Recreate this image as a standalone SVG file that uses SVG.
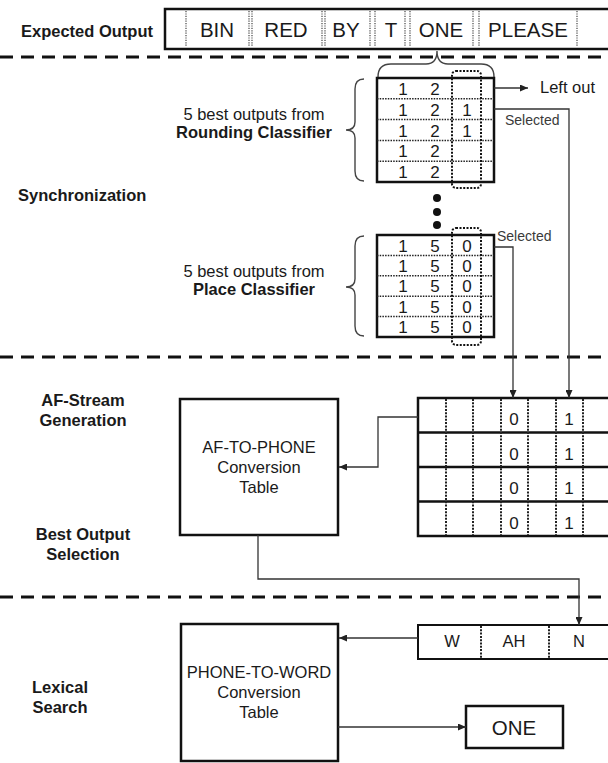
<svg xmlns="http://www.w3.org/2000/svg" width="608" height="763" viewBox="0 0 608 763">
<style>
text{font-family:"Liberation Sans",Arial,sans-serif;fill:#1a1a1a}
.lbl{font-size:16.5px;font-weight:bold}
.t{font-size:16.5px}
.big{font-size:20.5px}
.dg{font-size:17px}
.sel{font-size:14px;fill:#3a3a3a}
.mid{text-anchor:middle}
.box{fill:#fff;stroke:#111;stroke-width:2.5}
.dot{stroke:#222;stroke-width:1.5;stroke-dasharray:1.5 1.2;fill:none}
.dotv{stroke:#222;stroke-width:2;stroke-dasharray:2 1.3;fill:none}
.sep{stroke:#444;stroke-width:1.2;stroke-dasharray:1.2 1.2}
.hl{fill:none;stroke:#111;stroke-width:2;stroke-dasharray:2 1.5}
.div{stroke:#111;stroke-width:3;stroke-dasharray:13 8}
.ln{fill:none;stroke:#333;stroke-width:1.3}
.br{fill:none;stroke:#444;stroke-width:1.4}
.hline{stroke:#111;stroke-width:2.5}
</style>
<defs>
<marker id="ah" markerWidth="8" markerHeight="7" refX="8" refY="3.5" orient="auto" markerUnits="userSpaceOnUse">
<path d="M0,0 L8,3.5 L0,7 z" fill="#222"/>
</marker>
</defs>
<rect width="608" height="763" fill="#fff"/>

<g id="dividers">
<line class="div" x1="0" y1="57" x2="608" y2="57"/>
<line class="div" x1="0" y1="357" x2="608" y2="357"/>
<line class="div" x1="0" y1="597" x2="608" y2="597"/>
</g>

<g id="section-labels">
<text class="lbl" x="21" y="37">Expected Output</text>
<text class="lbl" x="18" y="201">Synchronization</text>
<text class="lbl mid" x="83" y="406">AF-Stream</text>
<text class="lbl mid" x="83" y="426">Generation</text>
<text class="lbl mid" x="83" y="540">Best Output</text>
<text class="lbl mid" x="83" y="560">Selection</text>
<text class="lbl mid" x="60" y="693">Lexical</text>
<text class="lbl mid" x="60" y="713">Search</text>
</g>

<g id="expected-output">
<rect class="box" x="165" y="9" width="460" height="40"/>
<line class="sep" x1="186" y1="11" x2="186" y2="47"/>
<line class="sep" x1="249" y1="11" x2="249" y2="47"/>
<line class="sep" x1="252" y1="11" x2="252" y2="47"/>
<line class="sep" x1="322" y1="11" x2="322" y2="47"/>
<line class="sep" x1="325" y1="11" x2="325" y2="47"/>
<line class="sep" x1="370" y1="11" x2="370" y2="47"/>
<line class="sep" x1="375" y1="11" x2="375" y2="47"/>
<line class="sep" x1="405" y1="11" x2="405" y2="47"/>
<line class="sep" x1="410" y1="11" x2="410" y2="47"/>
<line class="sep" x1="473" y1="11" x2="473" y2="47"/>
<line class="sep" x1="479" y1="11" x2="479" y2="47"/>
<line class="sep" x1="577" y1="11" x2="577" y2="47"/>
<text class="big mid" x="217" y="37">BIN</text>
<text class="big mid" x="286" y="37">RED</text>
<text class="big mid" x="346" y="37">BY</text>
<text class="big mid" x="391" y="37">T</text>
<text class="big mid" x="441" y="37">ONE</text>
<text class="big mid" x="528" y="37">PLEASE</text>
</g>

<g id="rounding-classifier">
<text class="t mid" x="254" y="120">5 best outputs from</text>
<text class="lbl mid" x="254" y="138">Rounding Classifier</text>
<path class="br" d="M364,79 Q355,79 355,89 L355,122 Q355,130 346,130 Q355,130 355,138 L355,171 Q355,181 364,181"/>
<path class="br" d="M378,77 Q378,64 391,64 L426,64 Q437,64 437,51 Q437,64 448,64 L481,64 Q494,64 494,77"/>
<rect class="box" x="377" y="78" width="117" height="104"/>
<line class="dot" x1="377" y1="98.8" x2="494" y2="98.8"/>
<line class="dot" x1="377" y1="119.6" x2="494" y2="119.6"/>
<line class="dot" x1="377" y1="140.4" x2="494" y2="140.4"/>
<line class="dot" x1="377" y1="161.2" x2="494" y2="161.2"/>
<rect class="hl" x="452" y="71" width="29" height="117" rx="4"/>
<g class="dg mid">
<text x="403" y="95">1</text><text x="435" y="95">2</text>
<text x="403" y="116">1</text><text x="435" y="116">2</text><text x="467" y="116">1</text>
<text x="403" y="137">1</text><text x="435" y="137">2</text><text x="467" y="137">1</text>
<text x="403" y="157">1</text><text x="435" y="157">2</text>
<text x="403" y="178">1</text><text x="435" y="178">2</text>
</g>
<text class="t" x="540" y="93">Left out</text>
<text class="sel" x="505" y="125">Selected</text>
</g>

<g id="ellipsis">
<circle cx="437" cy="198" r="4" fill="#111"/>
<circle cx="437" cy="212" r="4" fill="#111"/>
<circle cx="437" cy="225" r="4" fill="#111"/>
</g>

<g id="place-classifier">
<text class="t mid" x="254" y="277">5 best outputs from</text>
<text class="lbl mid" x="254" y="295">Place Classifier</text>
<path class="br" d="M364,236 Q355,236 355,246 L355,279 Q355,287 346,287 Q355,287 355,295 L355,326 Q355,336 364,336"/>
<rect class="box" x="377" y="235" width="117" height="102"/>
<line class="dot" x1="377" y1="255.4" x2="494" y2="255.4"/>
<line class="dot" x1="377" y1="275.8" x2="494" y2="275.8"/>
<line class="dot" x1="377" y1="296.2" x2="494" y2="296.2"/>
<line class="dot" x1="377" y1="316.6" x2="494" y2="316.6"/>
<rect class="hl" x="452" y="228" width="29" height="117" rx="4"/>
<g class="dg mid">
<text x="403" y="252">1</text><text x="435" y="252">5</text><text x="467" y="252">0</text>
<text x="403" y="272">1</text><text x="435" y="272">5</text><text x="467" y="272">0</text>
<text x="403" y="292">1</text><text x="435" y="292">5</text><text x="467" y="292">0</text>
<text x="403" y="313">1</text><text x="435" y="313">5</text><text x="467" y="313">0</text>
<text x="403" y="333">1</text><text x="435" y="333">5</text><text x="467" y="333">0</text>
</g>
<text class="sel" x="497" y="241">Selected</text>
</g>

<g id="af-to-phone">
<rect class="box" x="180" y="399" width="158" height="136"/>
<text class="t mid" x="259" y="453">AF-TO-PHONE</text>
<text class="t mid" x="259" y="473">Conversion</text>
<text class="t mid" x="259" y="493">Table</text>
</g>

<g id="af-stream">
<rect class="box" x="418" y="398" width="200" height="138"/>
<line class="hline" x1="418" y1="432.5" x2="608" y2="432.5"/>
<line class="hline" x1="418" y1="467" x2="608" y2="467"/>
<line class="hline" x1="418" y1="501.5" x2="608" y2="501.5"/>
<line class="dotv" x1="446" y1="399" x2="446" y2="535"/>
<line class="dotv" x1="473" y1="399" x2="473" y2="535"/>
<line class="dotv" x1="501" y1="399" x2="501" y2="535"/>
<line class="dotv" x1="528" y1="399" x2="528" y2="535"/>
<line class="dotv" x1="556" y1="399" x2="556" y2="535"/>
<line class="dotv" x1="583" y1="399" x2="583" y2="535"/>
<g class="dg mid">
<text x="514" y="425">0</text><text x="569" y="425">1</text>
<text x="514" y="459.5">0</text><text x="569" y="459.5">1</text>
<text x="514" y="494">0</text><text x="569" y="494">1</text>
<text x="514" y="528.5">0</text><text x="569" y="528.5">1</text>
</g>
</g>

<g id="phone-stream">
<rect fill="#fff" stroke="#111" stroke-width="2" x="418" y="625" width="200" height="34"/>
<line class="dotv" x1="481" y1="626" x2="481" y2="658"/>
<line class="dotv" x1="549" y1="626" x2="549" y2="658"/>
<text class="t mid" x="452" y="647">W</text>
<text class="t mid" x="514" y="647">AH</text>
<text class="t mid" x="579" y="647">N</text>
</g>

<g id="phone-to-word">
<rect class="box" x="181" y="624" width="157" height="137"/>
<text class="t mid" x="259" y="678">PHONE-TO-WORD</text>
<text class="t mid" x="259" y="698">Conversion</text>
<text class="t mid" x="259" y="718">Table</text>
</g>

<g id="one-output">
<rect class="box" x="466" y="706" width="97" height="42"/>
<text class="big mid" x="514" y="735">ONE</text>
</g>

<g id="connectors">
<line class="ln" x1="494" y1="88" x2="528" y2="88" marker-end="url(#ah)"/>
<polyline class="ln" points="494,109 569,109 569,398" marker-end="url(#ah)"/>
<polyline class="ln" points="494,247 513,247 513,398" marker-end="url(#ah)"/>
<polyline class="ln" points="418,417 378,417 378,467 339,467" marker-end="url(#ah)"/>
<polyline class="ln" points="258,535 258,579 579,579 579,625" marker-end="url(#ah)"/>
<line class="ln" x1="418" y1="638" x2="339" y2="638" marker-end="url(#ah)"/>
<line class="ln" x1="338" y1="727" x2="466" y2="727" marker-end="url(#ah)"/>
</g>
</svg>
